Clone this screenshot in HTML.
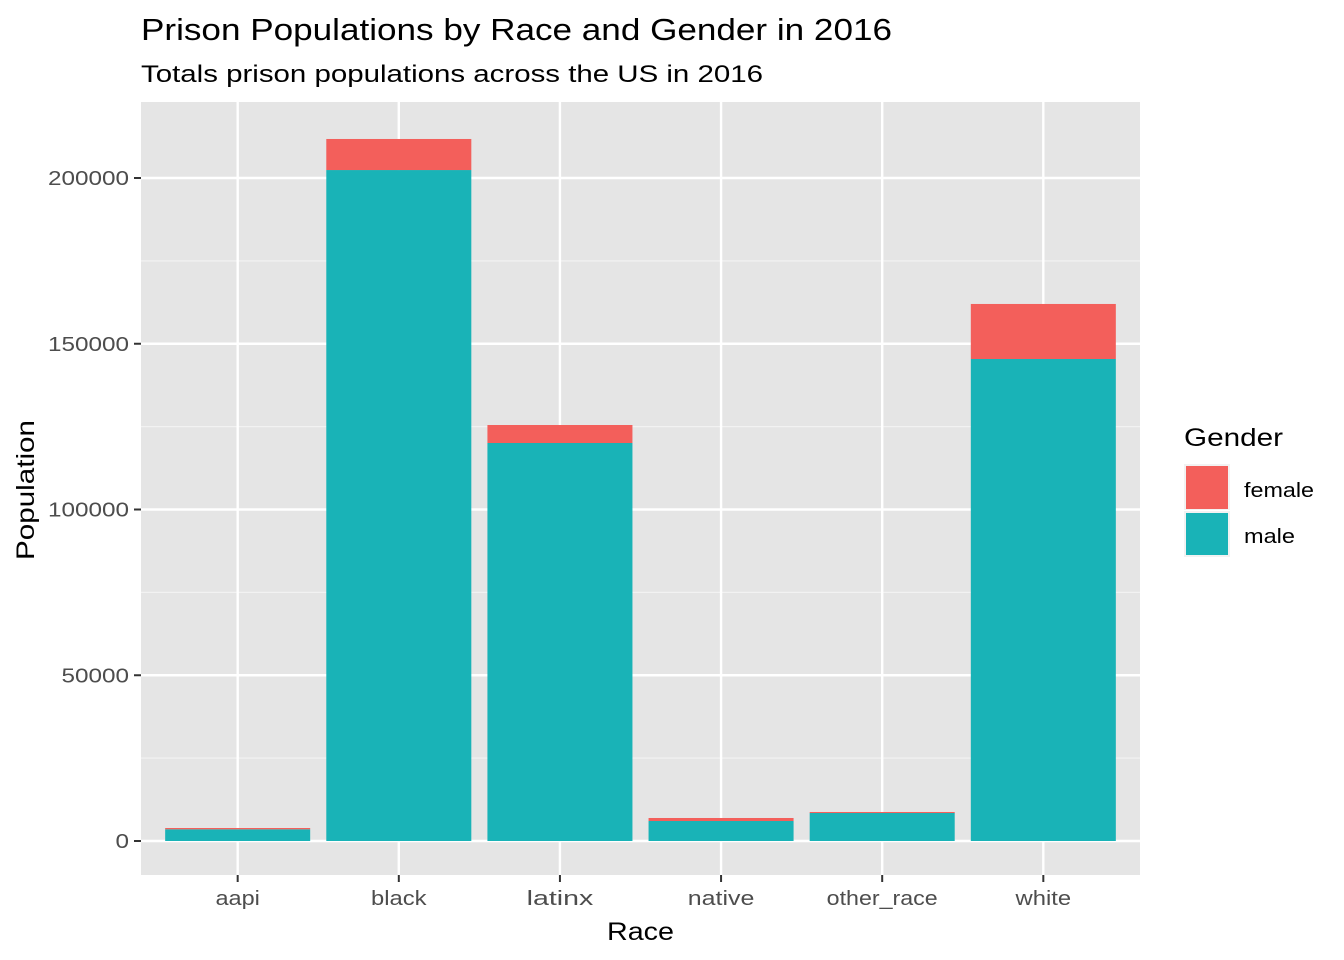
<!DOCTYPE html>
<html><head><meta charset="utf-8"><style>
html,body{margin:0;padding:0;background:#fff;}
svg{display:block;font-family:"Liberation Sans",Arial,sans-serif;}
</style></head><body>
<svg id="chart" width="1344" height="960">
<text x="141" y="40" font-size="31" textLength="751" lengthAdjust="spacingAndGlyphs" fill="#000">Prison Populations by Race and Gender in 2016</text>
<text x="141" y="82" font-size="24" textLength="622" lengthAdjust="spacingAndGlyphs" fill="#000">Totals prison populations across the US in 2016</text>
<rect x="141" y="102" width="999" height="773" fill="#e5e5e5"/>
<g id="grid"></g><g id="bars"></g><g id="axes"></g>
<text x="607" y="940" font-size="25" textLength="67" lengthAdjust="spacingAndGlyphs" fill="#000">Race</text>
<text transform="translate(34,560) rotate(-90)" font-size="25" textLength="140" lengthAdjust="spacingAndGlyphs" fill="#000">Population</text>
<g>
<text x="1184" y="446" font-size="25" textLength="99" lengthAdjust="spacingAndGlyphs" fill="#000">Gender</text>
<rect x="1184" y="464" width="46" height="46" fill="#f2f2f2"/>
<rect x="1186" y="466" width="42" height="43" fill="#f35f5b"/>
<rect x="1184" y="511" width="46" height="46" fill="#f2f2f2"/>
<rect x="1186" y="513" width="42" height="42" fill="#19b3b7"/>
<text x="1244" y="497" font-size="20" textLength="70" lengthAdjust="spacingAndGlyphs" fill="#000">female</text>
<text x="1244" y="543" font-size="20" textLength="51" lengthAdjust="spacingAndGlyphs" fill="#000">male</text>
</g>
</svg>
<script>
const categories = ["aapi","black","latinx","native","other_race","white"];
const maleValues = [3530, 202400, 120060, 6030, 8450, 145400];
const femaleValues = [390, 9370, 5430, 910, 300, 16600];
const yTicks = [0, 50000, 100000, 150000, 200000];
const yTickLabels = ["0","50000","100000","150000","200000"];

const NS="http://www.w3.org/2000/svg";
const px0=141, px1=1140, y0=841, pxPer=663/200000;
const y = v => y0 - v*pxPer;
const step = (px1-px0)/ (categories.length+0.2);
const xc = i => px0 + step*0.6 + i*step;
const bw = step*0.9;
function mk(tag, attrs, parent){const e=document.createElementNS(NS,tag);for(const k in attrs)e.setAttribute(k,attrs[k]);parent.appendChild(e);return e;}
const grid=document.getElementById('grid'), bars=document.getElementById('bars'), axes=document.getElementById('axes');
const minorVals=[];
for(let i=0;i<yTicks.length-1;i++) minorVals.push((yTicks[i]+yTicks[i+1])/2);
minorVals.push(yTicks[yTicks.length-1]+25000);
minorVals.forEach(v=>{
  if(y(v)<=102) return;
  const l=mk('line',{x1:px0,x2:px1,y1:y(v),y2:y(v),stroke:'#f2f2f2','stroke-width':1.2},grid);
  
  
});
yTicks.forEach((v,i)=>{
  const l=mk('line',{x1:px0,x2:px1,y1:y(v),y2:y(v),stroke:'#fff','stroke-width':2.4},grid);
  
  
  const t=mk('line',{x1:134,x2:141,y1:y(v),y2:y(v),stroke:'#333','stroke-width':2},axes);
  
  
  const lab=yTickLabels[i];
  const tx=mk('text',{x:129,y:y(v)+7,'font-size':20,'text-anchor':'end',fill:'#4d4d4d',textLength:lab.length*13.5,lengthAdjust:'spacingAndGlyphs'},axes);
  tx.textContent=lab;
  
  
});
categories.forEach((c,i)=>{
  const x=xc(i);
  const l=mk('line',{x1:x,x2:x,y1:102,y2:875,stroke:'#fff','stroke-width':2.4},grid);
  
  
  const m=mk('rect',{x:x-bw/2,y:y(maleValues[i]),width:bw,height:y(0)-y(maleValues[i]),fill:'#19b3b7'},bars);
  
  
  const tot=maleValues[i]+femaleValues[i];
  const f=mk('rect',{x:x-bw/2,y:y(tot),width:bw,height:y(maleValues[i])-y(tot),fill:'#f35f5b'},bars);
  
  
  const t=mk('line',{x1:x,x2:x,y1:875,y2:882,stroke:'#333','stroke-width':2},axes);
  
  
  const tx=mk('text',{x:x,y:905,'font-size':20,'text-anchor':'middle',fill:'#4d4d4d',textLength:c.length*11.1,lengthAdjust:'spacingAndGlyphs'},axes);
  tx.textContent=c;
  
  
});
</script>
</body></html>
